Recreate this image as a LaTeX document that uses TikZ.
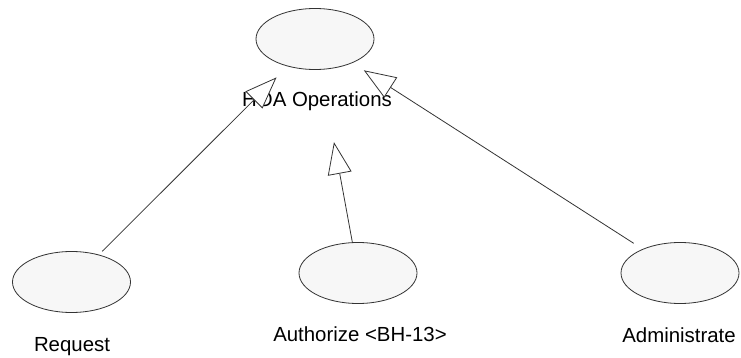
\documentclass[tikz,border=0pt]{standalone}
\usepackage{fontspec}
\setmainfont{Liberation Sans}
\usetikzlibrary{arrows.meta,shapes.geometric}
\definecolor{ucfill}{HTML}{F7F7F7}
\definecolor{ucline}{HTML}{333333}
\tikzset{
  usecase/.style={ellipse, draw=ucline, fill=ucfill, line width=0.8pt,
    minimum width=118pt, minimum height=61pt, inner sep=0pt, outer sep=0pt},
  uclabel/.style={anchor=base, inner sep=0pt, font=\fontsize{20.4}{24}\selectfont},
  gen/.style={draw=ucline, line width=0.8pt,
    -{Triangle[open, length=32pt, width=24pt, fill=white]}}
}
\begin{document}
\begin{tikzpicture}[x=1pt,y=-1pt]
\useasboundingbox (0,0) rectangle (741,358);
\node[usecase] (hoa) at (315,39) {};
\node[usecase] (req) at (71.5,282) {};
\node[usecase] (auth) at (358,273) {};
\node[usecase] (adm) at (680,273) {};
\node[uclabel] (hoat) at (317,107) {HOA Operations};
\node[uclabel] (reqt) at (72,351) {Request};
\node[uclabel] (autht) at (360,341) {Authorize <BH-13>};
\node[uclabel] (admt) at (679,342) {Administrate};
\draw[gen, shorten <=5pt, shorten >=16pt] (req) -- (hoa);
\draw[gen, shorten >=74pt] (auth) -- (hoa);
\draw[gen, shorten <=11pt, shorten >=14pt] (adm) -- (hoa);
\end{tikzpicture}
\end{document}
